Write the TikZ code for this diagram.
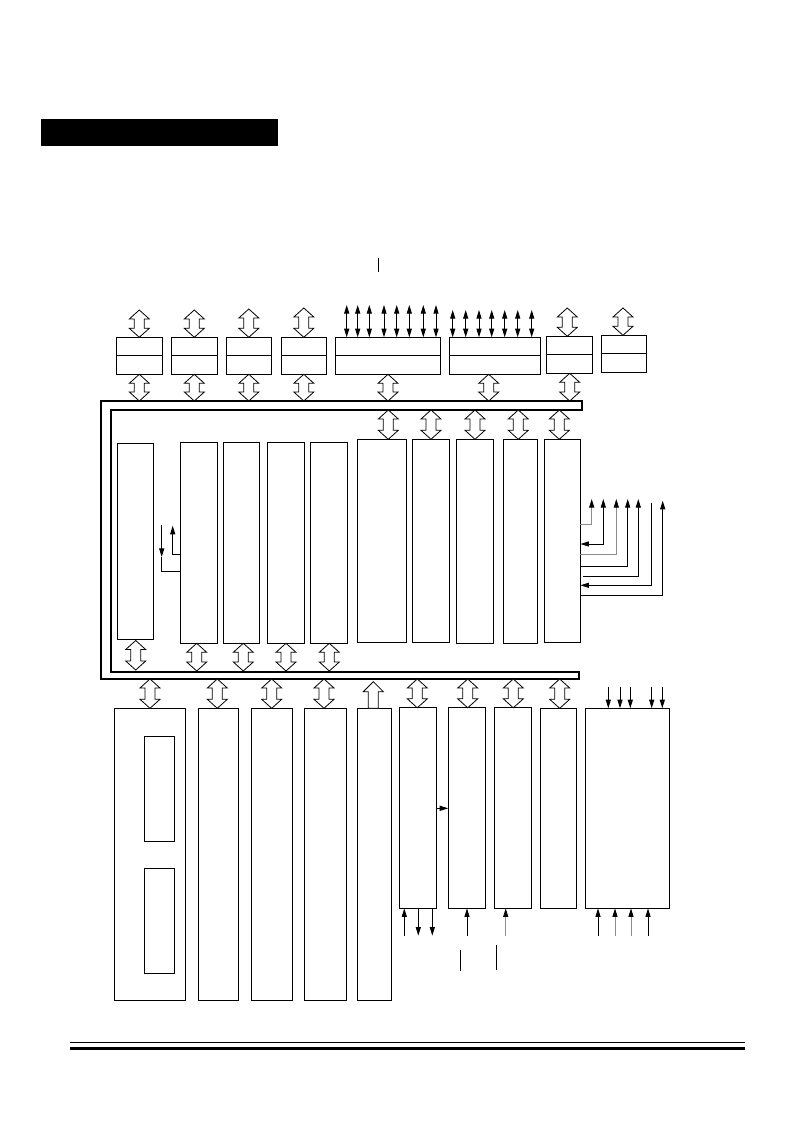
\documentclass[tikz,border=0pt]{standalone}
\usetikzlibrary{arrows.meta}
\tikzset{
  box/.style={draw, line width=0.9pt, inner sep=0pt, outer sep=0pt},
  hollow/.style={draw, line width=0.6pt, fill=white, line join=miter},
  thinline/.style={line width=0.75pt},
  tip/.style={-{Triangle[length=6.5pt,width=3.8pt,black]}},
  dtip/.style={{Triangle[length=6.5pt,width=3.8pt,black]}-{Triangle[length=6.5pt,width=3.8pt,black]}},
  grayline/.style={draw=black!45},
}
\newcommand\mybox[5]{\node[box, minimum width={(#4-#2)*0.75pt}, minimum height={(#5-#3)*0.75pt}] (#1) at ({(#2+#4)/2},{(#3+#5)/2}) {};}
\newcommand\hdbl[3]{\draw[hollow] (#1,#2) -- ({#1+10},{#2+9}) -- ({#1+5},{#2+9}) -- ({#1+5},{#3-9}) -- ({#1+10},{#3-9}) -- (#1,#3) -- ({#1-10},{#3-9}) -- ({#1-5},{#3-9}) -- ({#1-5},{#2+9}) -- ({#1-10},{#2+9}) -- cycle;}
\begin{document}
\begin{tikzpicture}[x=0.75pt,y=-0.75pt]
\useasboundingbox (0,0) rectangle (793,1123);

% header bar
\fill[black] (41,119) rectangle (278,146);
% small tick at top
\draw[thinline] (378.3,258) -- (378.3,272);

% ---------- top row boxes ----------
\mybox{t1}{116.3}{337.3}{162.3}{374.3}
\mybox{t2}{171.3}{337.3}{217.3}{374.3}
\mybox{t3}{226.3}{337.3}{271.3}{374.3}
\mybox{t4}{281.3}{337.3}{326.3}{374.3}
\mybox{t5}{335.3}{337.3}{440.7}{374.3}
\mybox{t6}{449.3}{337.3}{540.3}{374.3}
\mybox{t7}{546.3}{336.3}{592.3}{373.3}
\mybox{t8}{601.3}{335.3}{646.3}{372.3}
\foreach \n in {t1,t2,t3,t4,t5,t6,t7,t8}{\draw[line width=0.9pt] (\n.west) -- (\n.east);}

% hollow arrows above top boxes
\hdbl{139.3}{310}{337.3}
\hdbl{194.3}{310}{337.3}
\hdbl{248.8}{309}{337.3}
\hdbl{303.8}{308}{337.3}
\hdbl{567.3}{308}{336.3}
\hdbl{623}{308}{335.3}
% hollow arrows below top boxes
\hdbl{139.3}{374.3}{401}
\hdbl{194.3}{374.3}{401}
\hdbl{248.8}{374.3}{401}
\hdbl{303.8}{374.3}{401}
\hdbl{388}{374.3}{401}
\hdbl{488.7}{374.3}{401}
\hdbl{569.7}{373.3}{401}

% thin double arrows above t5, t6
\foreach \x in {346.7,357.7,369.3,384,396.7,409.3,423.3,436}{
  \draw[thinline,dtip] (\x,305) -- (t5.north -| \x,0);}
\foreach \x in {452.7,465.7,479,491.7,504.7,517.7,531.7}{
  \draw[thinline,dtip] (\x,310) -- (t6.north -| \x,0);}

% ---------- C-shaped bus ----------
\draw[line width=0.9pt] (582,401) -- (101,401) -- (101,679) -- (579,679) -- (579,672) -- (111,672) -- (111,410) -- (582,410) -- cycle;

% ---------- middle boxes ----------
\mybox{m0}{117.3}{443.3}{153.3}{639.3}
\mybox{m1}{180.3}{442.3}{217.3}{643.3}
\mybox{m2}{223.3}{442.3}{259.3}{643.3}
\mybox{m3}{267.3}{442.3}{304.3}{643.3}
\mybox{m4}{310.3}{442.3}{347.3}{643.3}
\mybox{m5}{357.3}{439.3}{406.3}{642.3}
\mybox{m6}{412.3}{439.3}{449.3}{642.3}
\mybox{m7}{456.3}{439.3}{493.3}{643.3}
\mybox{m8}{503.3}{439.3}{537.3}{643.3}
\mybox{m9}{544.3}{439.3}{580.3}{642.3}

% hollow arrows inner bus top -> middle boxes
\hdbl{388.3}{410}{439.3}
\hdbl{431}{410}{439.3}
\hdbl{475}{410}{439.3}
\hdbl{518.3}{410}{439.3}
\hdbl{559.3}{410}{439.3}
% hollow arrows middle boxes -> inner bus bottom
\hdbl{135.7}{640.5}{670}
\hdbl{196.7}{643.3}{671}
\hdbl{243.3}{643.3}{671}
\hdbl{286}{643.3}{671}
\hdbl{329.3}{643.3}{671}

% small arrows between m0 and m1
\draw[thinline,tip] (161.7,525) -- (161.7,557);
\draw[thinline] (161.7,557) |- (m1.west |- 0,571);
\draw[thinline,tip] (m1.west |- 0,554.3) -| (172.7,525.7);

% right side arrows of m9
\draw[thinline,grayline,tip] (m9.east |- 0,524.3) -| (591.7,499);
\draw[thinline,dtip] (m9.east |- 0,544) -| (603.3,499);
\draw[thinline,grayline,tip] (m9.east |- 0,554.7) -| (616.3,499);
\draw[thinline,tip] (m9.east |- 0,566) -| (627.7,499);
\draw[thinline,tip] (582.7,576.7) -| (638.3,499);
\draw[thinline,tip] (651,502.7) |- (m9.east |- 0,585.3);
\draw[thinline,tip] (m9.east |- 0,595.7) -| (662.7,500.7);

% ---------- bottom boxes ----------
\mybox{b0}{114.3}{708.3}{185.3}{1000.3}
\mybox{b0a}{144.3}{736.3}{174.3}{841.3}
\mybox{b0b}{144.3}{868.3}{174.3}{973.3}
\mybox{b1}{198.3}{708.3}{238.3}{1000.3}
\mybox{b2}{251.3}{708.3}{292.3}{1000.3}
\mybox{b3}{304.3}{708.3}{346.7}{1000.3}
\mybox{b4}{357.3}{708.3}{391.3}{1000.3}
\mybox{b5}{399.3}{707.8}{436.7}{908.3}
\mybox{b6}{448.3}{707.8}{485.3}{908.3}
\mybox{b7}{494.3}{707.8}{531.3}{908.3}
\mybox{b8}{540.3}{708.3}{576.3}{908.3}
\mybox{b9}{585.3}{708.3}{669.3}{908.3}

% hollow arrows outer bus bottom -> bottom boxes
\hdbl{150}{679}{708.3}
\hdbl{217.3}{679}{708.3}
\hdbl{271.7}{679}{708.3}
\hdbl{324}{679}{708.3}
\hdbl{417.3}{679}{707.8}
\hdbl{467.7}{679}{707.8}
\hdbl{513.3}{679}{707.8}
\hdbl{559.7}{679}{708.3}
% single hollow arrow from b4 up to bus
\draw[hollow] (373.3,681.7) -- (383.3,691.7) -- (378.3,691.7) -- (b4.north -| 378.3,0) -- (b4.north -| 368.3,0) -- (368.3,691.7) -- (363.3,691.7) -- cycle;

% down arrows into b9
\foreach \x in {608.3,620,630.3,651.7,662.3}{
  \draw[thinline,tip] (\x,686.7) -- (b9.north -| \x,0);}

% arrow b5 -> b6
\draw[thinline,tip] (b5.east |- 0,808.3) -- (b6.west |- 0,808.3);

% arrows below b5..b9
\draw[thinline,tip] (404.3,936) -- (b5.south -| 404.3,0);
\draw[thinline,tip] (b5.south -| 418.3,0) -- (418.3,935.7);
\draw[thinline,tip] (b5.south -| 432.3,0) -- (432.3,935.7);
\draw[thinline,tip] (467,936) -- (b6.south -| 467,0);
\draw[thinline,grayline,tip] (505.7,936) -- (b7.south -| 505.7,0);
\draw[thinline,tip] (598,936) -- (b9.south -| 598,0);
\draw[thinline,grayline,tip] (615,936) -- (b9.south -| 615,0);
\draw[thinline,grayline,tip] (631,936) -- (b9.south -| 631,0);
\draw[thinline,tip] (648,936) -- (b9.south -| 648,0);

% loose vertical lines
\draw[thinline] (460.3,950) -- (460.3,970.7);
\draw[thinline] (496.3,945.3) -- (496.3,970);

% footer rules
\draw[line width=0.9pt] (70,1042.3) -- (745,1042.3);
\fill[black] (70,1047.3) rectangle (745,1050);
\end{tikzpicture}
\end{document}
